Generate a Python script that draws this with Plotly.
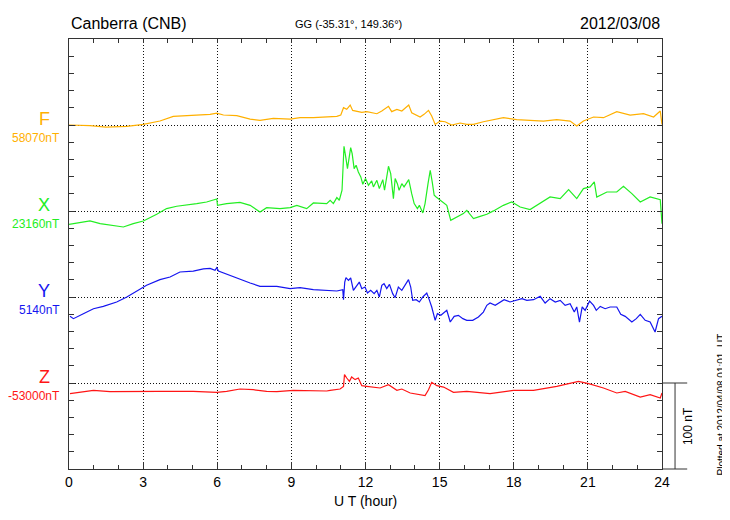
import plotly.graph_objects as go

# ---- data: UT hour and deviation from base value (nT) ----
f_hours = [0, 0.85, 1.50, 2.34, 3.01, 3.68, 4.22, 4.76, 5.30, 5.71, 5.98, 6.25, 6.79, 7.33, 7.73, 8.27, 8.95, 9.35,
           9.89, 10.43, 10.57, 10.84, 11.00, 11.11, 11.24, 11.38, 11.48, 11.65, 11.85, 12.05, 12.25, 12.46, 12.66,
           12.93, 13.06, 13.27, 13.47, 13.64, 13.75, 13.87, 14.01, 14.21, 14.37, 14.55, 14.68, 14.82, 15.02, 15.22,
           15.49, 15.83, 16.10, 16.37, 16.77, 17.18, 17.58, 18.12, 18.66, 19.20, 19.74, 20.28, 20.55, 20.82, 21.23,
           21.63, 22.17, 22.71, 23.25, 23.66, 23.93, 24.00]
f_dev = [0, -0.8, -2.4, -1.6, 0.7, 4.6, 10.0, 10.8, 11.6, 12.4, 13.9, 11.6, 10.8, 6.9, 5.4, 7.7, 6.9, 8.5,
         8.5, 9.3, 10.0, 10.0, 11.6, 20.1, 18.2, 23.2, 17.0, 16.2, 14.7, 15.5, 14.3, 13.1, 16.2,
         21.7, 15.5, 18.2, 16.2, 20.9, 23.2, 14.3, 12.4, 9.3, 12.4, 17.0, 10.4, 0.7, 4.6, 3.8,
         0.0, 2.3, 0.7, 0.7, 3.8, 6.2, 8.5, 6.2, 5.4, 4.6, 6.2, 4.6, -1.2, 4.6, 9.3,
         8.5, 15.5, 11.6, 13.1, 9.3, 16.2, 0.7]

x_hours = [0, 0.45, 0.85, 1.26, 1.66, 2.20, 2.60, 3.01, 3.55, 3.95, 4.36, 4.76, 5.17, 5.57, 5.98, 6.01, 6.38, 6.92,
           7.33, 7.73, 8.00, 8.54, 8.95, 9.22, 9.62, 9.89, 10.43,
           10.57, 10.70, 10.84, 10.94, 11.05, 11.13, 11.20, 11.27, 11.40, 11.46, 11.54, 11.62, 11.71, 11.81, 11.89,
           12.00, 12.12, 12.25, 12.32, 12.46, 12.56, 12.70, 12.77, 12.86, 12.93, 13.02, 13.13, 13.20, 13.29, 13.36,
           13.47, 13.56, 13.75, 13.87, 13.97, 14.10, 14.18, 14.32, 14.41, 14.53, 14.62, 14.70, 14.78, 14.86, 15.02,
           15.29, 15.45, 15.70, 15.96, 16.10, 16.37, 16.64, 16.91, 17.18, 17.58, 17.92, 18.26, 18.66, 19.07, 19.47,
           19.88, 20.22, 20.55, 20.82, 21.09, 21.26, 21.36, 21.77, 22.17, 22.44, 22.78, 23.12, 23.52, 23.93, 24.00]
x_dev = [-15.5, -13.1, -11.6, -14.7, -16.2, -18.6, -14.7, -11.6, -3.8, 2.8, 5.5, 6.6, 8.6, 10.5, 14.0, 6.6, 8.6, 10.1,
         6.6, -1.1, 3.9, 2.8, 3.9, 6.6, 2.8, 9.4, 8.6,
         12.5, 8.6, 15.6, 12.5, 24.1, 75.3, 62.9, 49.3, 73.7, 66.7, 49.3, 53.2, 45.4, 39.6, 31.1,
         37.7, 29.9, 35.0, 28.0, 35.7, 26.0, 36.5, 24.1, 41.5, 52.0, 43.5, 14.4, 37.7, 31.8, 24.1,
         31.8, 28.0, 36.5, 20.2, 8.6, 2.8, 6.6, -2.3, 8.6, 31.8, 47.4, 33.8, 18.3, 16.3, 12.5,
         6.6, -10.8, -6.9, -3.0, 0.8, -8.9, -6.2, -3.8, 0.1, 6.6, 10.5, 4.7, 1.6, 8.6, 16.3,
         14.4, 24.9, 14.4, 26.0, 28.0, 33.8, 16.3, 22.1, 22.1, 28.7, 20.2, 10.5, 16.3, 13.2, -14.7]

y_hours = [0.04, 0.18, 0.58, 0.99, 1.39, 1.93, 2.34, 2.74, 3.14, 3.68, 4.09, 4.49, 5.03, 5.44, 5.71, 5.91, 5.98, 6.05,
           6.65, 7.33, 7.73, 8.41, 8.95, 9.35, 9.89, 10.43,
           10.57, 10.84, 11.08, 11.11, 11.16, 11.21, 11.31, 11.40, 11.51, 11.62, 11.75, 11.85, 11.98, 12.08, 12.21,
           12.35, 12.46, 12.56, 12.66, 12.75, 12.86, 12.97, 13.10, 13.20, 13.33, 13.47, 13.60, 13.74, 13.83, 13.91,
           14.05, 14.18, 14.32, 14.48, 14.59, 14.68, 14.82, 14.91, 15.05, 15.18, 15.29, 15.43, 15.59, 15.76, 15.94,
           16.10, 16.34, 16.57, 16.77, 16.91, 17.04, 17.25, 17.45, 17.61, 17.85, 18.12, 18.33, 18.53, 18.80, 19.07,
           19.27, 19.47, 19.68, 19.88, 20.08, 20.28, 20.45, 20.55, 20.66, 20.77, 20.89, 21.07, 21.23, 21.34, 21.50,
           21.70, 21.90, 22.17, 22.33, 22.51, 22.78, 22.96, 23.12, 23.32, 23.52, 23.72, 23.86, 24.00]
y_dev = [-22.5, -25.2, -19.4, -13.6, -10.9, -5.8, 0.0, 7.0, 13.6, 20.2, 23.3, 29.1, 30.2, 32.6, 33.3, 31.0, 34.1, 30.2,
         23.3, 16.3, 12.4, 12.4, 9.7, 10.8, 8.5, 7.7,
         7.7, 7.0, 8.5, -3.1, 17.4, 22.5, 19.4, 22.1, 7.7, 11.6, 17.4, 9.7, 11.6, 4.6, 7.7,
         3.9, 7.7, 0.0, 13.6, 15.5, 9.7, 14.7, 3.9, -0.8, 11.6, 7.7, 13.6, 20.2, 11.6, -3.9,
         -3.1, -5.8, 0.0, 4.6, -3.9, -11.6, -27.1, -19.4, -21.3, -17.5, -15.5, -29.1, -22.5, -21.3, -25.2,
         -27.1, -27.1, -23.3, -17.5, -9.7, -7.0, -9.7, -5.8, -3.1, -5.8, -3.1, -1.9, -3.9, -3.1, 0.8,
         -7.0, -1.9, -5.8, -3.9, -9.7, -7.8, -17.5, -11.6, -29.1, -11.6, -15.5, -4.7, -9.7, -15.5, -10.9,
         -13.6, -11.6, -11.6, -20.2, -22.5, -29.1, -25.2, -20.2, -27.1, -29.1, -40.7, -25.2, -22.5]

z_hours = [0.04, 0.45, 0.99, 1.66, 2.34, 3.01, 3.68, 4.36, 5.03, 5.98, 6.38, 6.92, 7.46, 8.00, 8.41, 9.08, 9.76, 10.43,
           10.57, 10.97, 11.11, 11.15, 11.24, 11.35, 11.44, 11.58, 11.71, 11.85, 12.05, 12.32, 12.59, 12.93, 13.13,
           13.27, 13.47, 13.81, 14.41, 14.55, 14.68, 14.89, 15.16, 15.56, 16.10, 17.04, 17.99, 18.80, 19.74, 20.28,
           20.62, 21.03, 21.63, 22.17, 22.51, 23.12, 23.52, 23.93, 24.00]
z_dev = [-12.4, -10.9, -8.5, -10.1, -9.7, -9.7, -9.7, -9.7, -9.7, -10.9, -9.7, -7.0, -7.8, -9.7, -10.1, -8.5, -9.3, -9.3,
         -8.5, -7.0, -3.9, 9.7, 5.8, 1.9, 7.0, 3.9, 5.8, -3.1, -3.9, -4.7, -5.8, -1.9, -5.8,
         -8.5, -7.0, -11.6, -14.7, -7.8, 0.8, -3.1, -4.7, -10.9, -9.7, -12.4, -8.5, -8.5, -3.9, -0.8,
         1.9, -0.8, -5.8, -11.6, -9.7, -16.3, -13.6, -17.5, -11.6]

components = ["F", "X", "Y", "Z"]
base_labels = ["58070nT", "23160nT", "5140nT", "-53000nT"]
offsets = [400, 300, 200, 100]
colors = ["#FFB000", "#22EE22", "#1515F0", "#FF1515"]
series_hours = [f_hours, x_hours, y_hours, z_hours]
series_dev = [f_dev, x_dev, y_dev, z_dev]

x_ticks = [0, 3, 6, 9, 12, 15, 18, 21, 24]
Y_RANGE = 500
SCALE_NT = 100

FONT = "Liberation Sans, Arial, Helvetica, sans-serif"
AX = "#333333"

fig = go.Figure()
for name, hrs, dev, off, col in zip(components, series_hours, series_dev, offsets, colors):
    fig.add_trace(go.Scatter(x=hrs, y=[d + off for d in dev], mode="lines", name=name,
                             line=dict(color=col, width=1.2), hoverinfo="skip"))
# invisible trace to carry the top/right tick axes
fig.add_trace(go.Scatter(x=[None], y=[None], xaxis="x2", yaxis="y2", mode="lines",
                         showlegend=False, hoverinfo="skip"))

grid = dict(showgrid=True, gridcolor="#111111", gridwidth=1, griddash="1px,2px")

fig.update_layout(
    xaxis=dict(range=[0, 24], tickvals=x_ticks, ticks="inside", ticklen=7, tickcolor=AX,
               showline=True, linecolor=AX, linewidth=1, mirror=True, zeroline=False,
               tickfont=dict(size=14, color="black", family=FONT),
               minor=dict(dtick=1, ticks="inside", ticklen=4, tickcolor=AX, showgrid=False), **grid),
    yaxis=dict(range=[0, Y_RANGE], dtick=100, ticks="inside", ticklen=6, tickcolor=AX, showticklabels=False,
               showline=True, linecolor=AX, linewidth=1, mirror=True, zeroline=False,
               minor=dict(dtick=20, ticks="inside", ticklen=5, tickcolor=AX, showgrid=False), **grid),
    xaxis2=dict(range=[0, 24], overlaying="x", side="top", anchor="y", dtick=1, ticks="inside", ticklen=4,
                tickcolor=AX, showticklabels=False, showgrid=False, showline=False, zeroline=False),
    yaxis2=dict(range=[0, Y_RANGE], overlaying="y", side="right", anchor="x", dtick=20, ticks="inside",
                ticklen=5, tickcolor=AX, showticklabels=False, showgrid=False, showline=False, zeroline=False),
)

ann = []
for name, lab, off, col in zip(components, base_labels, offsets, colors):
    ann.append(dict(x=-0.042, y=off, xref="paper", yref="y", text=name, showarrow=False,
                    font=dict(size=18, color=col, family=FONT), xanchor="center", yanchor="middle", yshift=6))
    ann.append(dict(x=-0.011, y=off, xref="paper", yref="y", text=lab, showarrow=False,
                    font=dict(size=12, color=col, family=FONT), xanchor="right", yanchor="middle", yshift=-13))

ann += [
    dict(x=0, y=1.035, xref="paper", yref="paper", text="Canberra (CNB)", showarrow=False,
         xanchor="left", yanchor="middle", font=dict(size=16, color="black", family=FONT)),
    dict(x=0.472, y=1.035, xref="paper", yref="paper", text="GG (-35.31°, 149.36°)", showarrow=False,
         xanchor="center", yanchor="middle", font=dict(size=11, color="black", family=FONT)),
    dict(x=1.0, y=1.035, xref="paper", yref="paper", text="2012/03/08", showarrow=False,
         xanchor="right", yanchor="middle", font=dict(size=16, color="black", family=FONT)),
    dict(x=0.5, y=-0.074, xref="paper", yref="paper", text="U T (hour)", showarrow=False,
         xanchor="center", yanchor="middle", font=dict(size=14, color="black", family=FONT)),
    dict(x=1.044, y=SCALE_NT / Y_RANGE / 2, xref="paper", yref="paper", text="100 nT", showarrow=False,
         textangle=-90, xanchor="center", yanchor="middle", font=dict(size=12, color="black", family=FONT)),
    dict(x=1.0995, y=0.15, xref="paper", yref="paper", text="Plotted at 2012/04/08 01:01  UT", showarrow=False,
         textangle=-90, xanchor="center", yanchor="middle", font=dict(size=10, color="black", family=FONT)),
]

bar_top = offsets[-1] / Y_RANGE
shapes = [
    dict(type="line", xref="paper", yref="paper", x0=1.0, x1=1.0425, y0=0, y1=0,
         line=dict(color=AX, width=1)),
    dict(type="line", xref="paper", yref="paper", x0=1.0, x1=1.0425, y0=bar_top, y1=bar_top,
         line=dict(color=AX, width=1)),
    dict(type="line", xref="paper", yref="paper", x0=1.022, x1=1.022, y0=0, y1=bar_top,
         line=dict(color=AX, width=1)),
]

fig.update_layout(width=730, height=520, margin=dict(l=61, r=76, t=31, b=59),
                  paper_bgcolor="white", plot_bgcolor="white", showlegend=False,
                  annotations=ann, shapes=shapes, font=dict(family=FONT))

fig.write_html("out.html")
